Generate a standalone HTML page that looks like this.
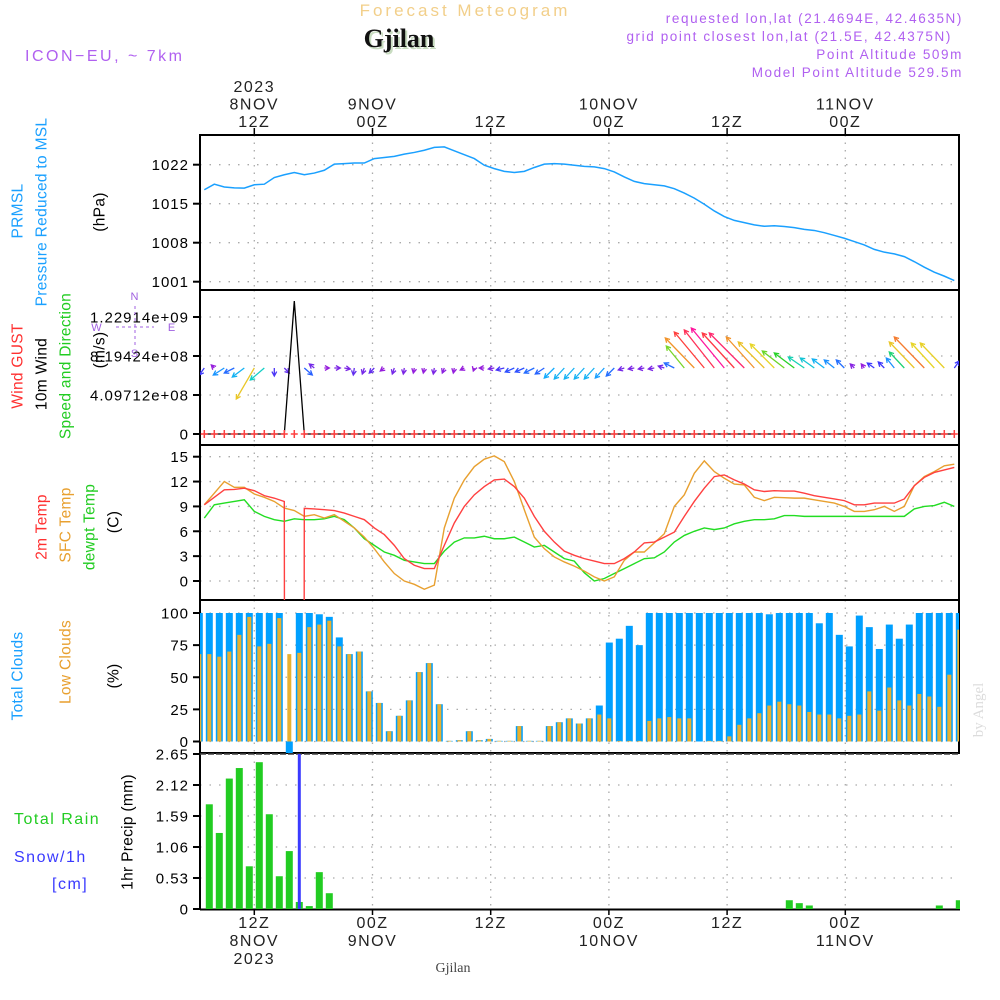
<!DOCTYPE html>
<html><head><meta charset="utf-8"><title>Forecast Meteogram Gjilan</title>
<style>
html,body{margin:0;padding:0;background:#fff;width:1000px;height:1000px;overflow:hidden;}
svg{display:block;font-family:"Liberation Sans",sans-serif;}
</style></head>
<body>
<svg id="chart" width="1000" height="1000" viewBox="0 0 1000 1000" xmlns="http://www.w3.org/2000/svg">
<defs>
<clipPath id="cpP"><rect x="200" y="135" width="759" height="155"/></clipPath>
<clipPath id="cpW"><rect x="200" y="290" width="759" height="155"/></clipPath>
<clipPath id="cpT"><rect x="200" y="445" width="759" height="155"/></clipPath>
<clipPath id="cpC"><rect x="200" y="600" width="759" height="153"/></clipPath>
<clipPath id="cpR"><rect x="200" y="754" width="760" height="156"/></clipPath>
</defs>
<rect width="1000" height="1000" fill="#fff"/>

<text x="465" y="16" text-anchor="middle" font-size="17" letter-spacing="3" fill="#f2cf8a">Forecast Meteogram</text>
<text x="401" y="49" text-anchor="middle" font-family="Liberation Serif,serif" font-weight="bold" font-size="26" fill="#c8dcc0">Gjilan</text>
<text x="399" y="47" text-anchor="middle" font-family="Liberation Serif,serif" font-weight="bold" font-size="26" fill="#111">Gjilan</text>
<text x="25" y="61" font-size="16" letter-spacing="2.5" fill="#b060f0">ICON−EU, ~ 7km</text>
<g fill="#b060f0" font-size="13.5" letter-spacing="1.6" text-anchor="end">
<text x="963" y="23">requested lon,lat (21.4694E, 42.4635N)</text>
<text x="952" y="41">grid point closest lon,lat (21.5E, 42.4375N)</text>
<text x="963" y="59">Point Altitude 509m</text>
<text x="963" y="77">Model Point Altitude 529.5m</text>
</g>

<g id="grid"></g>
<g id="panels"></g>
<g id="labels" font-size="15" letter-spacing="1"></g>

<text transform="translate(983,710) rotate(-90)" text-anchor="middle" font-family="Liberation Serif,serif" font-size="15" fill="#dcdcdc">by Angel</text>
<text x="453" y="972" text-anchor="middle" font-family="Liberation Serif,serif" font-size="14" fill="#444">Gjilan</text>
</svg>

<script>
// ---------- data ----------
const timeTickHours = [0, 12, 24, 36, 48, 60];
const topTickLabels = [["2023","8NOV","12Z"],["9NOV","00Z"],["12Z"],["10NOV","00Z"],["12Z"],["11NOV","00Z"]];
const botTickLabels = [["12Z","8NOV","2023"],["00Z","9NOV"],["12Z"],["00Z","10NOV"],["12Z"],["00Z","11NOV"]];

const pressure = [1017.5,1018.5,1018.0,1017.85,1017.8,1018.4,1018.5,1019.7,1020.2,1020.6,1020.2,1020.5,1021.0,1022.1,1022.2,1022.3,1022.3,1023.1,1023.3,1023.5,1023.9,1024.2,1024.6,1025.1,1025.2,1024.5,1023.8,1023.1,1021.9,1021.3,1020.8,1020.6,1020.8,1021.5,1022.1,1022.2,1022.1,1021.9,1021.7,1021.6,1021.3,1020.7,1019.8,1019.0,1018.6,1018.4,1018.2,1017.7,1016.9,1016.0,1014.9,1013.7,1012.7,1012.0,1011.6,1011.2,1010.95,1011.05,1010.9,1010.7,1010.4,1010.2,1009.8,1009.3,1008.8,1008.2,1007.6,1006.8,1006.3,1006.0,1005.5,1004.6,1003.6,1002.7,1002.0,1001.2];
const pressureTicks = [1022, 1015, 1008, 1001];

const windU = [-5,-3,-11,-10,-12,-18,-14,0,5,0,8,-5,5,6,6,-1,-2,-5,-4,-2,-1,-1,-1,-1,-2,-1,-4,-1,-5,-6,-8,-9,-9,-10,-9,-10,-10,-10,-10,-10,-9,-8,-6,-6,-6,-6,-6,-10,-18,-29,-30,-30,-33,-32,-35,-28,-26,-24,-22,-20,-16,-14,-12,-10,-8,-4,-3,-7,-6,-8,-15,-25,-30,-23,-24,5];
const windV = [-7,3,-7,-5,-9,-31,-12,-8,-5,0,-7,4,0,0,-1,-7,-6,-5,-3,-6,-6,-5,-5,-6,-5,-5,-2,-3,0,-1,-2,-4,-4,-5,-6,-10,-11,-11,-11,-11,-10,-8,-2,-1,-1,-1,2,5,22,30,36,38,40,35,35,31,26,24,17,15,11,10,9,8,8,4,4,5,6,10,16,26,31,25,25,7];
const windSpeedLine = [0,0,0,0,0,0,0,0,0,1.397e9,0,0,0,0,0,0,0,0,0,0,0,0,0,0,0,0,0,0,0,0,0,0,0,0,0,0,0,0,0,0,0,0,0,0,0,0,0,0,0,0,0,0,0,0,0,0,0,0,0,0,0,0,0,0,0,0,0,0,0,0,0,0,0,0,0,0];
const windGust = [0,0,0,0,0,0,0,0,0,0,0,0,0,0,0,0,0,0,0,0,0,0,0,0,0,0,0,0,0,0,0,0,0,0,0,0,0,0,0,0,0,0,0,0,0,0,0,0,0,0,0,0,0,0,0,0,0,0,0,0,0,0,0,0,0,0,0,0,0,0,0,0,0,0,0,0];
const windTicks = [0, 4.09712e8, 8.19424e8, 1.22914e9];
const windTickLabels = ["0","4.09712e+08","8.19424e+08","1.22914e+09"];

const temp2m = [9.2,10.1,11.0,11.05,11.2,10.9,10.3,10.0,9.6,-999,8.76,8.7,8.6,8.5,8.2,7.8,7.4,6.4,5.6,4.3,2.7,1.9,1.5,1.5,4.3,7.0,9.0,10.4,11.4,12.2,12.3,11.4,10.0,7.8,6.0,4.7,3.6,3.1,2.7,2.4,2.1,2.1,2.7,3.5,4.6,4.7,5.3,5.9,7.8,9.6,11.2,12.6,12.8,12.2,11.7,11.0,10.8,10.9,10.85,10.85,10.6,10.3,10.1,9.9,9.7,9.2,9.2,9.4,9.4,9.4,9.9,11.5,12.5,13.1,13.4,13.7];
const tempSfc = [9.2,10.6,12.0,11.3,11.3,10.5,10.1,9.6,8.8,8.5,7.8,8.0,7.6,8.0,7.2,6.4,5.3,3.9,2.3,0.9,0,-0.4,-1.0,-0.5,6.4,10.0,12.2,13.8,14.7,15.1,14.4,12.0,8.6,5.3,3.9,2.9,2.3,1.8,1.2,0.5,0,0.5,2.5,3.5,3.5,4.6,5.7,9.0,10.4,13.0,14.5,13.2,12.4,11.7,11.6,10.1,9.7,10.1,10.05,10.0,10.0,9.8,9.6,9.4,9.0,8.4,8.4,8.6,9.0,8.4,9.0,11.5,12.6,13.2,13.9,14.1];
const tempDew = [7.6,9.2,9.4,9.6,9.8,8.4,7.8,7.4,7.2,7.5,7.4,7.4,7.5,7.8,7.4,6.4,5.1,4.3,3.5,3.1,2.5,2.3,2.1,2.1,3.6,4.7,5.2,5.2,5.4,5.1,5.1,5.3,4.7,4.1,4.3,3.5,2.7,2.4,1.0,0,0.3,0.9,1.5,2.1,2.7,2.8,3.5,4.7,5.5,6.0,6.4,6.2,6.4,6.9,7.2,7.4,7.4,7.5,7.9,7.9,7.8,7.8,7.8,7.8,7.8,7.8,7.8,7.8,7.8,7.8,7.8,8.7,9.0,9.1,9.5,9.0];
const tempTicks = [15, 12, 9, 6, 3, 0];

const cloudTotal = [100,100,100,100,100,100,100,100,100,-9,100,100,99,97,81,68,70,39,30,8,20,32,54,61,29,0.5,1,8,1,2,0.5,0.5,12,0.5,0.5,12,15,18,14,18,28,77,80,90,75,100,100,100,100,100,100,100,100,100,100,100,100,99,100,100,100,100,92,100,83,74,98,89,72,91,80,91,100,100,100,100,100];
const cloudLow = [68,68,66,70,83,97,74,76,96,68,69,89,91,94,74,68,70,39,30,8,20,32,54,61,29,0.5,1,8,1,2,0.5,0.5,12,0.5,0.5,12,15,18,14,18,21,18,0.5,0.5,0.5,16,18,19,18,18,0,0.5,0.5,4,13,18,22,28,31,29,28,23,21,21,18,20,21,39,24,42,32,28,37,35,27,52,87];
const cloudTicks = [100, 75, 50, 25, 0];

const precipRain = [0,1.79,1.30,2.23,2.41,0.73,2.51,1.62,0.56,0.99,0.12,0.05,0.63,0.27,0,0,0,0,0,0,0,0,0,0,0,0,0,0,0,0,0,0,0,0,0,0,0,0,0,0,0,0,0,0,0,0,0,0,0,0,0,0,0,0,0,0,0,0,0,0.15,0.10,0.06,0,0,0,0,0,0,0,0,0,0,0,0,0.06,0,0.15];
const precipSnow = [0,0,0,0,0,0,0,0,0,0,3.5,0,0,0,0,0,0,0,0,0,0,0,0,0,0,0,0,0,0,0,0,0,0,0,0,0,0,0,0,0,0,0,0,0,0,0,0,0,0,0,0,0,0,0,0,0,0,0,0,0,0,0,0,0,0,0,0,0,0,0,0,0,0,0,0,0,0];
const precipTicks = [2.65, 2.12, 1.59, 1.06, 0.53, 0];

// ---------- scales ----------
const NS = "http://www.w3.org/2000/svg";
const X0 = 200, X1 = 959;
const xTime = h => 254.3 + 9.85 * h;
const xLine = j => 204.3 + 10 * j;
const xBar = i => 199.3 + 10 * i;
const yP = p => 164.7 + (1022 - p) * (39 / 7);
const yW = w => 434 - w * (39 / 4.09712e8);
const yT = t => 581 - t * (124.3 / 15);
const yC = c => 741.5 - c * 1.285;
const yR = r => 909 - r * (155 / 2.65);

function mk(tag, attrs, parent) {
  const e = document.createElementNS(NS, tag);
  for (const k in attrs) e.setAttribute(k, attrs[k]);
  parent.appendChild(e);
  return e;
}
const gGrid = document.getElementById('grid');
const gPan = document.getElementById('panels');
const gLab = document.getElementById('labels');

const panels = [
  {name:'pressure', top:135, bot:290, ticks:pressureTicks, y:yP, labels:pressureTicks.map(String)},
  {name:'wind', top:290, bot:445, ticks:windTicks, y:yW, labels:windTickLabels},
  {name:'temperature', top:445, bot:600, ticks:tempTicks, y:yT, labels:tempTicks.map(String)},
  {name:'clouds', top:600, bot:753, ticks:cloudTicks, y:yC, labels:cloudTicks.map(String)},
  {name:'precip', top:754, bot:909, ticks:precipTicks, y:yR, labels:precipTicks.map(v => v === 0 ? "0" : v.toFixed(2))}
];

panels.forEach(p => {
  const g = mk('g', {}, gGrid);
  
  
  timeTickHours.forEach(h => {
    const gl = mk('line', {x1:xTime(h), x2:xTime(h), y1:p.top, y2:p.bot, stroke:'#aaa', 'stroke-width':1.3, 'stroke-dasharray':'1.5 6'}, g);
    
    
  });
  p.ticks.forEach((v, k) => {
    const yy = p.y(v);
    if (yy > p.top + 2 && yy < p.bot - 1) {
      const hl = mk('line', {x1:X0, x2:X1, y1:yy, y2:yy, stroke:'#aaa', 'stroke-width':1.3, 'stroke-dasharray':'1.5 8'}, g);
      
      
    }
    const tk = mk('line', {x1:193, x2:X0, y1:yy, y2:yy, stroke:'#000', 'stroke-width':2}, g);
    
    
    const tl = mk('text', {x:189, y:yy + 5.5, 'text-anchor':'end', 'font-size':15, fill:'#000'}, gLab);
    tl.textContent = p.labels[k];
    
    
  });
});

panels.slice(0, 4).forEach(p => {
  const r = mk('rect', {x:X0, y:p.top, width:X1 - X0, height:p.bot - p.top, fill:'none', stroke:'#000', 'stroke-width':2}, gPan);
  
  
});
const axL = mk('line', {x1:X0, x2:X0, y1:753, y2:910, stroke:'#000', 'stroke-width':2}, gPan);


const axB = mk('line', {x1:X0, x2:960, y1:909.5, y2:909.5, stroke:'#000', 'stroke-width':2}, gPan);


const axT = mk('line', {x1:X0, x2:960, y1:754, y2:754, stroke:'#444', 'stroke-width':1.5, 'stroke-dasharray':'6 2'}, gPan);



timeTickHours.forEach((h, k) => {
  const x = xTime(h);
  const t1 = mk('line', {x1:x, x2:x, y1:128, y2:135, stroke:'#000', 'stroke-width':1.5}, gPan);
  
  
  const t2 = mk('line', {x1:x, x2:x, y1:909, y2:915, stroke:'#000', 'stroke-width':1.5}, gPan);
  
  
  const top = topTickLabels[k];
  top.forEach((s, m) => {
    const t = mk('text', {x:x, y:127 - (top.length - 1 - m) * 17.5, 'text-anchor':'middle', 'font-size':16, 'letter-spacing':1.5, fill:'#222'}, gLab);
    t.textContent = s;
    
    
  });
  botTickLabels[k].forEach((s, m) => {
    const t = mk('text', {x:x, y:928 + m * 18, 'text-anchor':'middle', 'font-size':16, 'letter-spacing':1.5, fill:'#222'}, gLab);
    t.textContent = s;
    
    
  });
});

const rot = [
  ['PRMSL', 18, 211, '#1aa0ff', 'pressure-title'],
  ['Pressure Reduced to MSL', 42, 212, '#1aa0ff', 'pressure-subtitle'],
  ['(hPa)', 100, 212, '#000', 'pressure-unit'],
  ['Wind GUST', 18, 366, '#ff3030', 'gust-title'],
  ['10m Wind', 42, 374, '#000', 'wind-title'],
  ['Speed and Direction', 66, 366, '#22cc22', 'wind-subtitle'],
  ['(m/s)', 100, 350, '#000', 'wind-unit'],
  ['2m Temp', 42, 527, '#ff3030', 'temp2m-title'],
  ['SFC Temp', 66, 525, '#e8a030', 'sfc-temp-title'],
  ['dewpt Temp', 90, 527, '#22cc22', 'dewpoint-title'],
  ['(C)', 114, 522, '#000', 'temp-unit'],
  ['Total Clouds', 18, 676, '#1aa0ff', 'total-clouds-title'],
  ['Low Clouds', 66, 662, '#e8a030', 'low-clouds-title'],
  ['(%)', 114, 676, '#000', 'clouds-unit'],
  ['1hr Precip (mm)', 128, 832, '#000', 'precip-unit']
];
rot.forEach(r => {
  const t = mk('text', {x:r[1], y:r[2], transform:`rotate(-90 ${r[1]} ${r[2]})`, 'text-anchor':'middle', 'dominant-baseline':'central', 'font-size':15.5, 'letter-spacing':0.3, fill:r[3]}, gLab);
  t.textContent = r[0];
  
  
});
[['Total  Rain', 14, 824, '#22cc22', 'rain-legend'], ['Snow/1h', 14, 862, '#3a3aff', 'snow-legend'], ['[cm]', 52, 889, '#3a3aff', 'snow-unit']].forEach(r => {
  const t = mk('text', {x:r[1], y:r[2], 'font-size':16, 'letter-spacing':1.5, fill:r[3], 'xml:space':'preserve'}, gLab);
  t.textContent = r[0];
  
  
});

const comp = mk('g', {fill:'#a060e0', stroke:'#a060e0', 'font-size':11}, gLab);


mk('line', {x1:135, x2:135, y1:306, y2:348, 'stroke-dasharray':'3 3', 'stroke-width':1}, comp);
mk('line', {x1:116, x2:154, y1:327, y2:327, 'stroke-dasharray':'3 3', 'stroke-width':1}, comp);
[['N',135,300],['S',135,357],['W',97,331],['E',172,331]].forEach(c => {
  const t = mk('text', {x:c[1], y:c[2], 'text-anchor':'middle', stroke:'none'}, comp);
  t.textContent = c[0];
});

// ---------- pressure ----------
const gP = mk('g', {'clip-path':'url(#cpP)'}, gPan);


const pl = mk('polyline', {points:pressure.map((v, j) => xLine(j) + ',' + yP(v)).join(' '), fill:'none', stroke:'#1aa0ff', 'stroke-width':1.5}, gP);



// ---------- wind ----------
const gW = mk('g', {'clip-path':'url(#cpW)'}, gPan);


function windColor(s) {
  const stops = [[5,[150,30,220]],[9,[50,60,255]],[14,[20,170,255]],[19,[20,210,190]],[25,[40,210,40]],[33,[230,220,40]],[41,[240,160,40]],[47,[255,60,60]],[52,[255,20,160]]];
  if (s <= stops[0][0]) return `rgb(${stops[0][1]})`;
  for (let k = 1; k < stops.length; k++) {
    if (s <= stops[k][0]) {
      const a = stops[k - 1], b = stops[k], f = (s - a[0]) / (b[0] - a[0]);
      return `rgb(${a[1].map((c, m) => Math.round(c + (b[1][m] - c) * f)).join(',')})`;
    }
  }
  return `rgb(${stops[stops.length - 1][1]})`;
}
const WSCALE = 1, WBASE = 368;
windU.forEach((u, j) => {
  const v = windV[j];
  const s = Math.hypot(u, v);
  if (s < 0.5) return;
  const x1 = xLine(j), y1 = WBASE, x2 = x1 + u * WSCALE, y2 = y1 - v * WSCALE;
  const col = windColor(s);
  const ang = Math.atan2(y2 - y1, x2 - x1), hl = 5;
  const a = mk('path', {d:`M${x1},${y1}L${x2},${y2}M${x2 - hl * Math.cos(ang - 0.5)},${y2 - hl * Math.sin(ang - 0.5)}L${x2},${y2}L${x2 - hl * Math.cos(ang + 0.5)},${y2 - hl * Math.sin(ang + 0.5)}`, fill:'none', stroke:col, 'stroke-width':1.3}, gW);
  
  
});
const wl = mk('polyline', {points:windSpeedLine.map((v, j) => xLine(j) + ',' + yW(v)).join(' '), fill:'none', stroke:'#000', 'stroke-width':1.3}, gW);


windGust.forEach((g, j) => {
  const x = xLine(j), y = yW(g);
  const m = mk('path', {d:`M${x - 3.5},${y}H${x + 3.5}M${x},${y - 4}V${y + 4}`, stroke:'#ff4040', 'stroke-width':1.5}, gW);
  
  
});

// ---------- temperature ----------
const gT = mk('g', {'clip-path':'url(#cpT)'}, gPan);


[[tempDew, '#22dd22', 'dewpoint-line'], [tempSfc, '#e8a030', 'sfc-temp-line'], [temp2m, '#ff4040', 'temp2m-line']].forEach(s => {
  const l = mk('polyline', {points:s[0].map((v, j) => xLine(j) + ',' + yT(v)).join(' '), fill:'none', stroke:s[1], 'stroke-width':1.4}, gT);
  
  
});

// ---------- clouds ----------
const gC = mk('g', {'clip-path':'url(#cpC)'}, gPan);


cloudTotal.forEach((v, i) => {
  const y0 = yC(0), y1 = yC(v);
  const b = mk('rect', {x:xBar(i) - 3.5, y:Math.min(y0, y1), width:7, height:Math.abs(y0 - y1), fill:'#00a0ff'}, gC);
  
  
});
cloudLow.forEach((v, i) => {
  const y0 = yC(0), y1 = yC(v);
  const b = mk('rect', {x:xBar(i) - 2, y:Math.min(y0, y1), width:4, height:Math.abs(y0 - y1), fill:'#e8b030'}, gC);
  
  
});

// ---------- precip ----------
const gR = mk('g', {'clip-path':'url(#cpR)'}, gPan);


precipRain.forEach((v, i) => {
  if (v <= 0) return;
  const b = mk('rect', {x:xBar(i) - 3.5, y:yR(v), width:7, height:yR(0) - yR(v), fill:'#22cc22'}, gR);
  
  
});
precipSnow.forEach((v, i) => {
  if (v <= 0) return;
  const b = mk('rect', {x:xBar(i) - 1.5, y:yR(v), width:3, height:yR(0) - yR(v), fill:'#3a3aff'}, gR);
  
  
});
</script>
</body></html>
